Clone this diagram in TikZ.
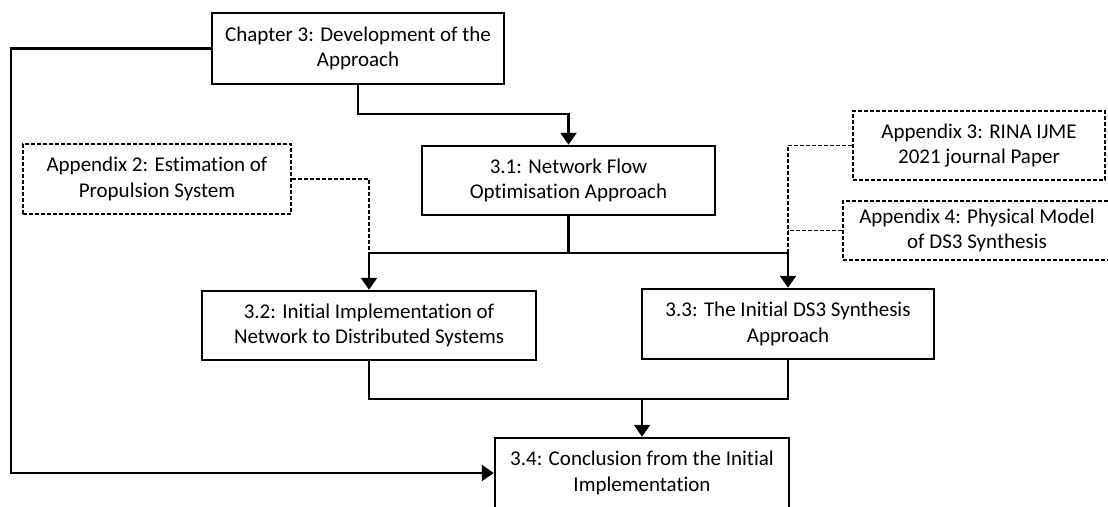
\documentclass[tikz,border=0pt]{standalone}
\usepackage{fontspec}
\setmainfont{Carlito}[Ligatures=NoCommon]
\usetikzlibrary{arrows.meta}
\begin{document}
\begin{tikzpicture}[x=1pt,y=-1pt,
  every node/.style={font=\fontsize{21}{25.5}\selectfont, align=center, inner sep=0pt},
  solidbox/.style={draw, line width=2.5pt, minimum width=#1},
  dashbox/.style={draw, line width=1.4pt, dash pattern=on 4pt off 2pt, minimum width=#1},
  link/.style={line width=2.5pt},
  arr/.style={line width=2.5pt, -{Triangle[length=12pt,width=16pt]}},
  dline/.style={line width=1.4pt, dash pattern=on 4pt off 2pt}]
\clip (0,0) rectangle (1108,506);
% chapter and section boxes
\node[solidbox=292, minimum height=71] (ch) at (358,48.5) {Chapter 3: Development of the\\Approach};
\node[solidbox=293, minimum height=69] (n31) at (568.5,180.5) {3.1: Network Flow\\Optimisation Approach};
\node[solidbox=334, minimum height=69] (n32) at (369,325.5) {3.2: Initial Implementation of\\Network to Distributed Systems};
\node[solidbox=292, minimum height=70] (n33) at (788,324) {3.3: The Initial DS3 Synthesis\\Approach};
\node[solidbox=294, minimum height=70] (n34) at (642,473) {3.4: Conclusion from the Initial\\Implementation};
% appendix boxes
\node[dashbox=268, minimum height=70] (a2) at (157,179) {Appendix 2: Estimation of\\Propulsion System};
\node[dashbox=252, minimum height=69] (a3) at (979,145.5) {Appendix 3: RINA IJME\\2021 journal Paper};
\node[dashbox=268, minimum height=59] (a4) at (977,230.5) {Appendix 4: Physical Model\\of DS3 Synthesis};
% routing points
\coordinate (lb) at (11,473);
\coordinate (t1) at (358,114);
\coordinate (j1) at (568.5,253);
\coordinate (j3) at (642,399);
% solid connectors
\draw[arr] (ch.west) -| (lb) -- (n34.west);
\draw[arr] (ch.south) -- (t1) -| (n31.north);
\draw[link] (n31.south) -- (j1);
\draw[arr] (j1) -| (n32.north);
\draw[arr] (j1) -| (n33.north);
\draw[link] (n32.south) |- (j3);
\draw[link] (n33.south) |- (j3);
\draw[arr] (j3) -- (n34.north);
% dashed appendix links
\draw[dline] (a2.east) -| (n32.north |- j1);
\draw[dline] (a3.west) -| (n33.north |- j1);
\draw[dline] (a4.west) -- (a4.west -| n33.north);
\end{tikzpicture}
\end{document}
